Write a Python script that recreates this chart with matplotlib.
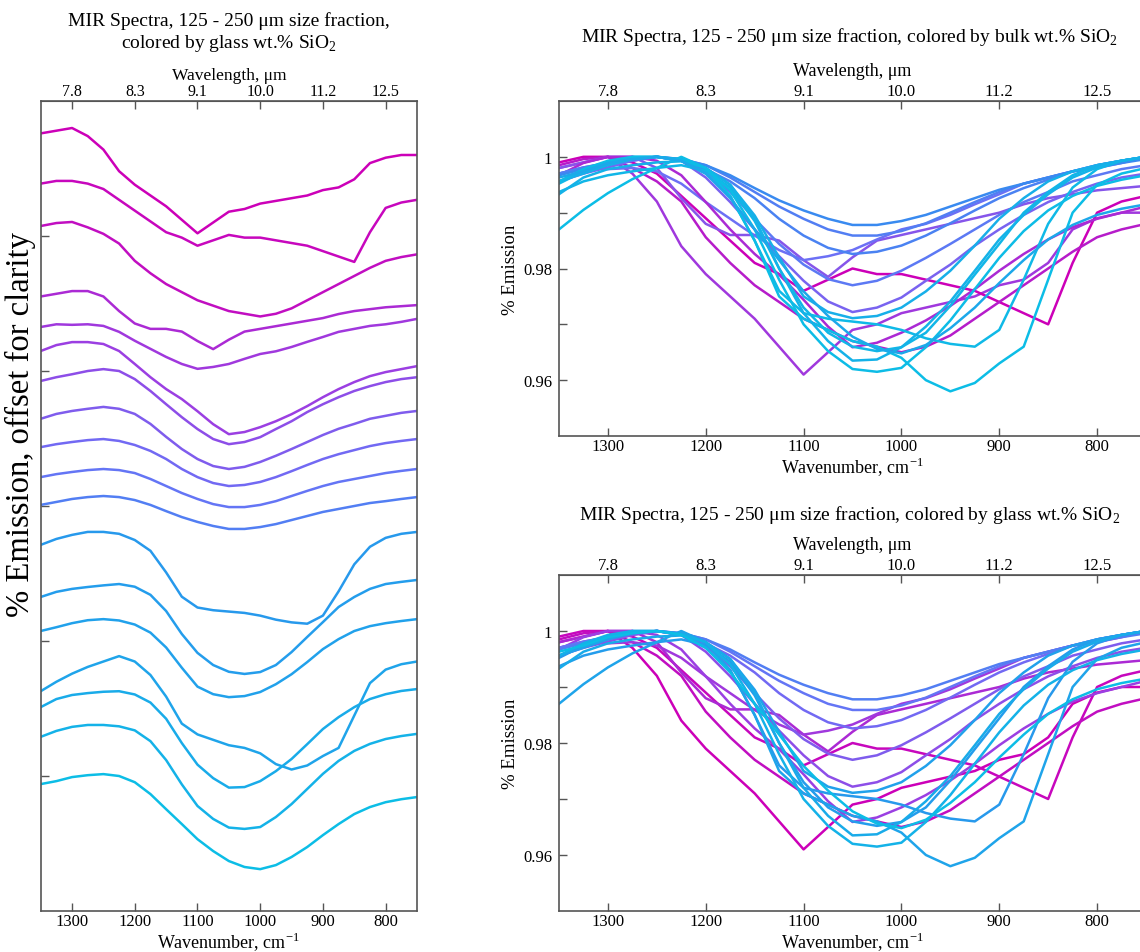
import matplotlib
matplotlib.use('Agg')
import matplotlib.pyplot as plt
from matplotlib.colors import LinearSegmentedColormap, Normalize

plt.rcParams['font.family'] = ['Liberation Serif', 'DejaVu Serif']
plt.rcParams['mathtext.fontset'] = 'custom'
plt.rcParams['mathtext.rm'] = 'Liberation Serif'

# wavenumber grid, cm-1
wavenumber = [1350, 1325, 1300, 1275, 1250, 1225, 1200, 1175, 1150, 1125, 1100, 1075, 1050,
              1025, 1000, 975, 950, 925, 900, 875, 850, 825, 800, 775, 750]

# emission spectra, ordered by glass wt.% SiO2 (high -> low)
s01 = [.998, .999, 1.0, .997, .992, .984, .979, .975, .971, .966, .961, .965, .969,
       .970, .972, .973, .974, .975, .977, .978, .981, .987, .989, .990, .990]
s02 = [.999, 1.0, 1.0, .999, .997, .993, .989, .985, .981, .979, .976, .978, .980,
       .979, .979, .978, .977, .976, .974, .972, .970, .981, .990, .992, .993]
s03 = [.9985, .9996, 1.0, .998, .9956, .992, .9856, .981, .977, .974, .971, .969, .967,
       .966, .965, .966, .968, .971, .974, .977, .980, .983, .9856, .987, .988]
s04 = [.998, .999, 1.0, 1.0, .998, .9926, .988, .986, .986, .985, .9815, .9785, .982,
       .985, .986, .987, .988, .989, .990, .9915, .9926, .9933, .994, .9944, .9948]
s05 = [.997, .998, .9978, .998, .9974, .9952, .9919, .9889, .9859, .9833, .9815, .9822, .9833,
       .9852, .987, .988, .9896, .9915, .9933, .9952, .9963, .9974, .998, .9989, 1.0]
s06 = [.9967, .9989, 1.0, 1.0, .9993, .9967, .9919, .987, .9826, .9789, .9744, .9696, .9659,
       .9667, .9685, .9707, .9733, .9763, .9796, .9826, .9852, .9874, .9889, .990, .9911]
s07 = [.9956, .997, .9981, .9993, 1.0, .9993, .9963, .9919, .987, .9822, .9778, .9741, .9722,
       .973, .9748, .9778, .9807, .9841, .987, .9896, .9919, .9937, .9952, .9963, .997]
s08 = [.9956, .9974, .9985, .9993, 1.0, .9993, .9974, .9937, .9889, .9844, .9807, .9781, .977,
       .9778, .9796, .9819, .9844, .987, .9896, .9919, .9937, .9956, .9967, .9978, .9985]
s09 = [.997, .9981, .9989, .9996, 1.0, .9993, .9978, .9956, .9926, .9889, .9859, .9837, .9826,
       .983, .9841, .9859, .9881, .9904, .9926, .9944, .9959, .9974, .9985, .9993, 1.0]
s10 = [.997, .9981, .9989, .9996, 1.0, .9996, .9985, .9963, .9937, .9911, .9889, .987, .9859,
       .9859, .9867, .9881, .990, .9919, .9937, .9952, .9963, .9974, .9985, .9993, 1.0]
s11 = [.9967, .9978, .9989, .9996, 1.0, .9996, .9985, .9967, .9944, .9922, .9904, .9889, .9878,
       .9878, .9885, .9896, .9911, .9926, .9941, .9952, .9963, .9974, .9981, .9989, .9996]
s12 = [.9952, .9974, .9989, 1.0, 1.0, .9993, .9970, .9930, .9850, .9760, .9720, .9710, .9705,
       .9700, .9690, .9675, .9665, .9660, .9690, .9780, .9880, .9945, .9978, .9993, 1.0]
s13 = [.9937, .9956, .9967, .9974, .9980, .9985, .9975, .9945, .9885, .9800, .9730, .9685, .9660,
       .9652, .9659, .9685, .9733, .9789, .9844, .990, .9937, .9967, .9985, .9993, 1.0]
s14 = [.9956, .997, .9985, .9996, 1.0, .9995, .9980, .9950, .9895, .9820, .9750, .9722, .9711,
       .9715, .973, .9759, .9796, .9841, .9889, .9926, .9956, .9974, .9985, .9993, 1.0]
s15 = [.9870, .9905, .9935, .9960, .9980, 1.0, .9980, .9930, .9850, .9750, .9710, .9690, .9670,
       .9660, .9640, .9600, .9580, .9595, .9630, .9660, .9780, .9900, .9950, .9970, .9980]
s16 = [.9933, .9963, .9978, .9985, .9990, .9992, .9980, .9950, .9890, .9800, .9720, .9670, .9635,
       .9637, .9659, .9696, .9741, .9796, .9852, .9896, .9933, .9963, .9981, .9993, 1.0]
s17 = [.9956, .9978, .9993, 1.0, 1.0, .9995, .9980, .9940, .9870, .9780, .9700, .9652, .9620,
       .9615, .9622, .9659, .9707, .9763, .9819, .9867, .9904, .993, .9948, .9959, .9967]
s18 = [.9963, .9974, .9989, .9996, 1.0, .9993, .997, .9926, .987, .9815, .9759, .9715, .9678,
       .9656, .9648, .9663, .9693, .973, .9774, .9815, .9852, .9878, .9896, .9907, .9915]
spectra = [s01, s02, s03, s04, s05, s06, s07, s08, s09, s10, s11, s12, s13, s14, s15, s16, s17, s18]

# vertical offsets used in the stacked panel
offsets = [0.0, -0.0196, -0.0348, -0.0604, -0.0707, -0.0793, -0.0893, -0.1033, -0.1152,
           -0.1263, -0.1363, -0.1496, -0.1674, -0.1819, -0.1956, -0.2078, -0.2211, -0.2393]

# wt.% SiO2 used for coloring
glass_sio2 = [76, 75.5, 75, 73, 72, 71.5, 70.5, 69.5, 68.5, 67.5, 66.5, 63, 62.5, 62, 61.5, 60.5, 59.5, 58]
bulk_sio2 = [72, 76, 74, 70, 68, 73, 69, 67, 66, 66.5, 65, 58.5, 59, 60, 58, 59.5, 58.2, 61]

wn_ticks = [1300, 1200, 1100, 1000, 900, 800]
wl_labels = ['7.8', '8.3', '9.1', '10.0', '11.2', '12.5']

cmap = LinearSegmentedColormap.from_list('sio2', [(0.0, '#0cbde6'), (0.35, '#2e90ee'),
                                                  (0.55, '#6a72f6'), (0.75, '#9a40e2'),
                                                  (1.0, '#cc00b8')])
norm = Normalize(vmin=58, vmax=76)

W, H = 1140, 953
fig = plt.figure(figsize=(W / 100, H / 100), dpi=100)
ax_l = fig.add_axes([40.7 / W, 1 - 912 / H, 376.3 / W, 810 / H])
ax_t = fig.add_axes([559 / W, 1 - 437 / H, 587 / W, 335 / H])
ax_b = fig.add_axes([559 / W, 1 - 912 / H, 587 / W, 336 / H])

spine_col = '#555555'
xlab = r'Wavenumber, cm$^{\mathregular{-1}}$'


def style(ax, top_pad, top_ticksize, top_labsize):
    ax.set_xlim(1350, 750)
    ax.set_xticks(wn_ticks)
    ax.tick_params(direction='in', length=6, width=1, color=spine_col, labelsize=12, pad=1.5)
    for s in ax.spines.values():
        s.set_color(spine_col)
        s.set_linewidth(1.2)
    ax.set_xlabel(xlab, fontsize=13, labelpad=0)
    top = ax.secondary_xaxis('top')
    top.set_xticks(wn_ticks, labels=wl_labels)
    top.tick_params(direction='in', length=6, width=1, color=spine_col,
                    labelsize=top_ticksize, pad=1.5)
    top.spines['top'].set_color(spine_col)
    top.set_xlabel('Wavelength, μm', fontsize=top_labsize, labelpad=top_pad)


# stacked panel
for spec, off, g in zip(spectra, offsets, glass_sio2):
    ax_l.plot(wavenumber, [v + off for v in spec], color=cmap(norm(g)), lw=1.8)
ax_l.set_ylim(0.71, 1.01)
ax_l.set_yticks([0.76, 0.81, 0.86, 0.91, 0.96])
ax_l.set_yticklabels([])
style(ax_l, 2.5, 11.5, 12.5)
fig.text(20 / W, 1 - 425 / H, '% Emission, offset for clarity', rotation=90,
         ha='center', va='center', fontsize=23.5)
fig.text(229 / W, 1 - 33 / H, 'MIR Spectra, 125 - 250 μm size fraction,\ncolored by glass wt.% SiO$_{\\mathregular{2}}$',
         ha='center', va='center', fontsize=14, linespacing=1.15)

# overlaid panels
for ax, cvals, label, ty in [(ax_t, bulk_sio2, 'bulk', 37), (ax_b, glass_sio2, 'glass', 515)]:
    for spec, c in zip(spectra, cvals):
        ax.plot(wavenumber, spec, color=cmap(norm(c)), lw=1.8)
    ax.set_ylim(0.95, 1.01)
    ax.set_yticks([0.96, 0.97, 0.98, 0.99, 1.0])
    ax.set_yticklabels(['0.96', '', '0.98', '', '1'])
    ax.set_ylabel('% Emission', fontsize=13.5, labelpad=3)
    style(ax, 6, 12, 13)
    ax.tick_params(axis='y', pad=5)
    fig.text(850 / W, 1 - ty / H,
             'MIR Spectra, 125 - 250 μm size fraction, colored by ' + label + ' wt.% SiO$_{\\mathregular{2}}$',
             ha='center', va='center', fontsize=14)

fig.savefig('out.png', dpi=100)
